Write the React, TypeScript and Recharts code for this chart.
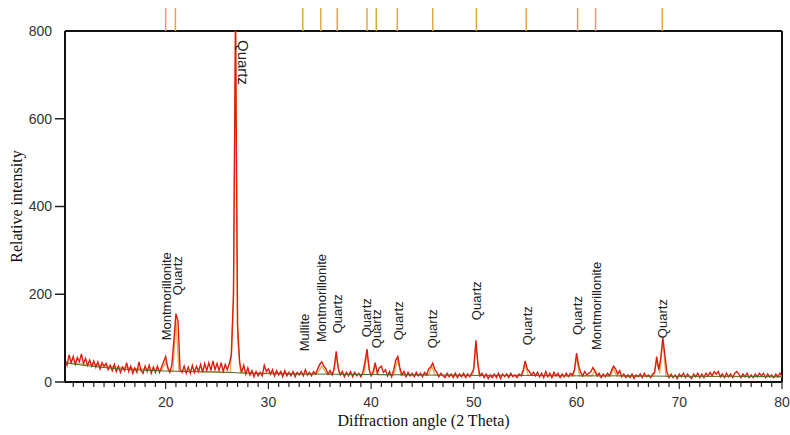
import React from "react"
import { ComposedChart, Line, Scatter, XAxis, YAxis, ReferenceLine, ReferenceDot } from "recharts"

// scan: 0.2° steps from 10.2° to 80.0° (one row per degree)
const scanStart = 10.2
const scanStep = 0.2
const counts: number[] = [
  52, 38, 62, 44, 58,
  40, 56, 46, 64, 42,
  54, 38, 50, 36, 48,
  34, 46, 30, 44, 36,
  42, 28, 38, 26, 40,
  24, 36, 22, 34, 26,
  44, 24, 36, 20, 32,
  22, 46, 26, 20, 36,
  24, 38, 20, 34, 22,
  36, 22, 34, 46, 58,
  32, 22, 38, 95, 156,
  138, 30, 22, 36, 20,
  34, 20, 38, 22, 36,
  24, 40, 22, 42, 26,
  44, 26, 48, 28, 42,
  26, 44, 24, 40, 28,
  42, 62, 200, 830, 130,
  44, 22, 38, 18, 32,
  16, 26, 12, 24, 14,
  22, 14, 38, 24, 30,
  18, 28, 14, 26, 16,
  24, 12, 26, 14, 22,
  14, 24, 12, 22, 16,
  24, 14, 28, 16, 22,
  14, 24, 18, 30, 40,
  46, 36, 30, 18, 26,
  16, 30, 70, 32, 16,
  24, 12, 22, 14, 24,
  12, 22, 14, 20, 12,
  22, 45, 75, 30, 14,
  24, 44, 20, 32, 36,
  22, 28, 14, 24, 12,
  28, 50, 58, 32, 16,
  24, 12, 22, 14, 20,
  12, 22, 14, 20, 12,
  22, 16, 30, 34, 43,
  28, 22, 12, 20, 14,
  10, 20, 12, 18, 10,
  20, 10, 18, 12, 20,
  10, 18, 12, 20, 30,
  95, 40, 14, 20, 10,
  18, 8, 16, 10, 18,
  10, 20, 8, 18, 12,
  18, 10, 20, 12, 16,
  10, 18, 14, 26, 48,
  30, 24, 16, 22, 14,
  22, 12, 20, 10, 24,
  12, 20, 10, 22, 14,
  20, 10, 18, 12, 20,
  12, 20, 16, 28, 66,
  38, 22, 14, 24, 16,
  20, 24, 33, 24, 14,
  20, 10, 18, 12, 20,
  14, 26, 36, 30, 18,
  26, 12, 18, 10, 16,
  10, 18, 8, 16, 12,
  18, 10, 20, 12, 16,
  10, 18, 22, 58, 28,
  55, 102, 60, 22, 10,
  18, 10, 16, 8, 18,
  12, 20, 10, 18, 12,
  8, 18, 12, 20, 10,
  18, 10, 20, 14, 22,
  14, 24, 18, 24, 12,
  18, 10, 20, 12, 18,
  10, 20, 24, 18, 10,
  18, 12, 20, 10, 16,
  10, 18, 12, 20, 14,
  20, 10, 18, 12, 16,
  10, 18, 12, 20, 12,
]

// fitted background
const bgTheta = [10.2, 12, 14, 16, 18, 20, 22, 24, 26, 27, 28, 30, 35, 40, 45, 50, 55, 60, 65, 70, 75, 80]
const bgCounts = [44, 38, 33, 29, 27, 25, 24, 23, 22, 21, 20, 19, 18, 17, 16, 15, 15, 14, 14, 13, 13, 12]

// calculated profile (background + fitted reflections)
const calcTheta = [
  10.2, 19.6, 20.0, 20.4, 20.7, 21.0, 21.3, 26.3, 26.6, 26.8, 27.0, 27.3, 34.7, 35.2, 35.7,
  36.3, 36.6, 36.9, 39.3, 39.6, 39.9, 40.2, 40.4, 40.7, 42.2, 42.6, 42.9, 45.6, 45.9, 46.2,
  49.9, 50.2, 50.5, 54.7, 55.0, 55.3, 59.7, 60.0, 60.3, 61.5, 61.8, 62.1, 63.3, 63.6, 63.9,
  67.5, 67.8, 68.1, 68.4, 68.7, 80,
]
const calcCounts = [
  44, 26, 46, 25, 25, 140, 25, 22, 180, 830, 100, 21, 18, 36, 18,
  18, 58, 18, 17, 66, 17, 17, 38, 17, 16, 52, 16, 16, 36, 16,
  15, 86, 15, 15, 40, 15, 14, 56, 14, 14, 28, 14, 14, 30, 14,
  13, 50, 20, 96, 13, 12,
]

// reference reflection positions (marks above the frame)
const reflections = [20.0, 20.95, 33.35, 35.1, 36.7, 39.6, 40.5, 42.55, 46.0, 50.25, 55.1, 60.1, 61.85, 68.35]

// phase names written above the peaks
const phaseTheta = [20.1, 21.17, 33.5, 35.2, 36.7, 39.55, 40.5, 42.65, 46.0, 50.25, 55.2, 60.1, 61.9, 68.35]
const phaseLevel = [95, 198, 70, 91, 111, 102, 77, 95, 77, 141, 84, 107, 73, 100]
const phaseName = [
  "Montmorillonite", "Quartz", "Mullite", "Montmorillonite", "Quartz", "Quartz", "Quartz",
  "Quartz", "Quartz", "Quartz", "Quartz", "Quartz", "Montmorillonite", "Quartz",
]
const mainPeakTheta = 26.8
const mainPeakName = "Quartz"

const yTicks = [0, 200, 400, 600, 800]
const xMajorTicks = [20, 30, 40, 50, 60, 70, 80]

const scan = counts.map((c, i) => ({ theta: +(scanStart + i * scanStep).toFixed(1), counts: c }))
const background = bgTheta.map((t, i) => ({ theta: t, bg: bgCounts[i] }))
const calc = calcTheta.map((t, i) => ({ theta: t, calc: calcCounts[i] }))
const phases = phaseTheta.map((t, i) => ({ theta: t, level: phaseLevel[i], name: phaseName[i] }))

const xTicks: number[] = []
for (let t = 11; t <= 80; t++) xTicks.push(t)

const sans = "'Liberation Sans', Arial, sans-serif"
const serif = "'Liberation Serif', 'Times New Roman', serif"

const YTick = (p: any) => {
  const v = p.payload.value
  return (
    <g>
      {v !== 800 && <line x1={p.x + 3} x2={p.x + 13} y1={p.y} y2={p.y} stroke="#222" strokeWidth={1.5} />}
      <text x={p.x} y={p.y} dy="0.35em" textAnchor="end" fontSize={14} fill="#333" fontFamily={sans}>
        {v}
      </text>
    </g>
  )
}

const XTick = (p: any) => {
  const v = p.payload.value
  const major = xMajorTicks.includes(v)
  const axisY = p.y - 9
  return (
    <g>
      <line x1={p.x} x2={p.x} y1={axisY} y2={axisY + (major ? 7 : 5)} stroke="#222" strokeWidth={1.2} />
      {major && (
        <text x={p.x} y={axisY + 25} textAnchor="middle" fontSize={14} fill="#333" fontFamily={sans}>
          {v}
        </text>
      )}
    </g>
  )
}

// reflection mark: a short stroke standing on the top frame line
const RefMark = (p: any) => {
  const top = Math.min(p.y1, p.y2)
  return <line x1={p.x1} x2={p.x1} y1={top - 23} y2={top} stroke="#e0a83c" strokeWidth={1.5} />
}

const PhaseLabel = (p: any) => {
  const { cx, cy, payload } = p
  return (
    <text
      x={cx}
      y={cy}
      transform={`rotate(-90 ${cx} ${cy})`}
      dominantBaseline="central"
      fontSize={13}
      fill="#222"
      fontFamily={sans}
    >
      {payload.name}
    </text>
  )
}

export default function App() {
  return (
    <div>
      <style>{"body{margin:0}"}</style>
      <ComposedChart width={790} height={435} data={scan} margin={{ top: 31, right: 8, bottom: 23, left: 8 }}>
        <XAxis
          dataKey="theta"
          type="number"
          domain={[10.2, 80]}
          allowDataOverflow
          ticks={xTicks}
          interval={0}
          tickSize={5}
          tickMargin={4}
          tickLine={false}
          tick={XTick}
          height={30}
          axisLine={{ stroke: "#111", strokeWidth: 2 }}
          label={{
            content: ({ viewBox }: any) => (
              <text
                x={viewBox.x + viewBox.width / 2}
                y={viewBox.y + 44}
                textAnchor="middle"
                fontSize={16}
                fill="#111"
                fontFamily={serif}
              >
                Diffraction angle (2 Theta)
              </text>
            ),
          }}
        />
        <YAxis
          type="number"
          domain={[0, 800]}
          allowDataOverflow
          ticks={yTicks}
          interval={0}
          tickSize={10}
          tickMargin={3}
          tickLine={false}
          tick={YTick}
          width={57}
          axisLine={{ stroke: "#111", strokeWidth: 2 }}
          label={{
            content: ({ viewBox }: any) => {
              const cy = viewBox.y + viewBox.height / 2
              return (
                <text
                  x={22}
                  y={cy}
                  transform={`rotate(-90 22 ${cy})`}
                  textAnchor="middle"
                  fontSize={16}
                  fill="#111"
                  fontFamily={serif}
                >
                  Relative intensity
                </text>
              )
            },
          }}
        />
        <ReferenceLine y={800} stroke="#111" strokeWidth={2} />
        <ReferenceLine x={80} stroke="#111" strokeWidth={2} />
        {reflections.map((t) => (
          <ReferenceLine key={t} x={t} shape={RefMark} />
        ))}
        <Line
          data={calc}
          dataKey="calc"
          stroke="#eeac4a"
          strokeWidth={1.3}
          dot={false}
          isAnimationActive={false}
        />
        <Line dataKey="counts" stroke="#dc1e12" strokeWidth={1.4} dot={false} isAnimationActive={false} />
        <Line
          data={background}
          dataKey="bg"
          stroke="#4d6a2c"
          strokeWidth={1}
          dot={false}
          isAnimationActive={false}
        />
        <Scatter data={phases} dataKey="level" shape={PhaseLabel} isAnimationActive={false} />
        <ReferenceDot
          x={mainPeakTheta}
          y={800}
          r={0}
          label={{
            content: ({ viewBox }: any) => {
              const x = viewBox.x + 8
              const y = viewBox.y + 9
              return (
                <text
                  x={x}
                  y={y}
                  transform={`rotate(90 ${x} ${y})`}
                  dominantBaseline="central"
                  fontSize={15}
                  fill="#222"
                  fontFamily={sans}
                >
                  {mainPeakName}
                </text>
              )
            },
          }}
        />
      </ComposedChart>
    </div>
  )
}
